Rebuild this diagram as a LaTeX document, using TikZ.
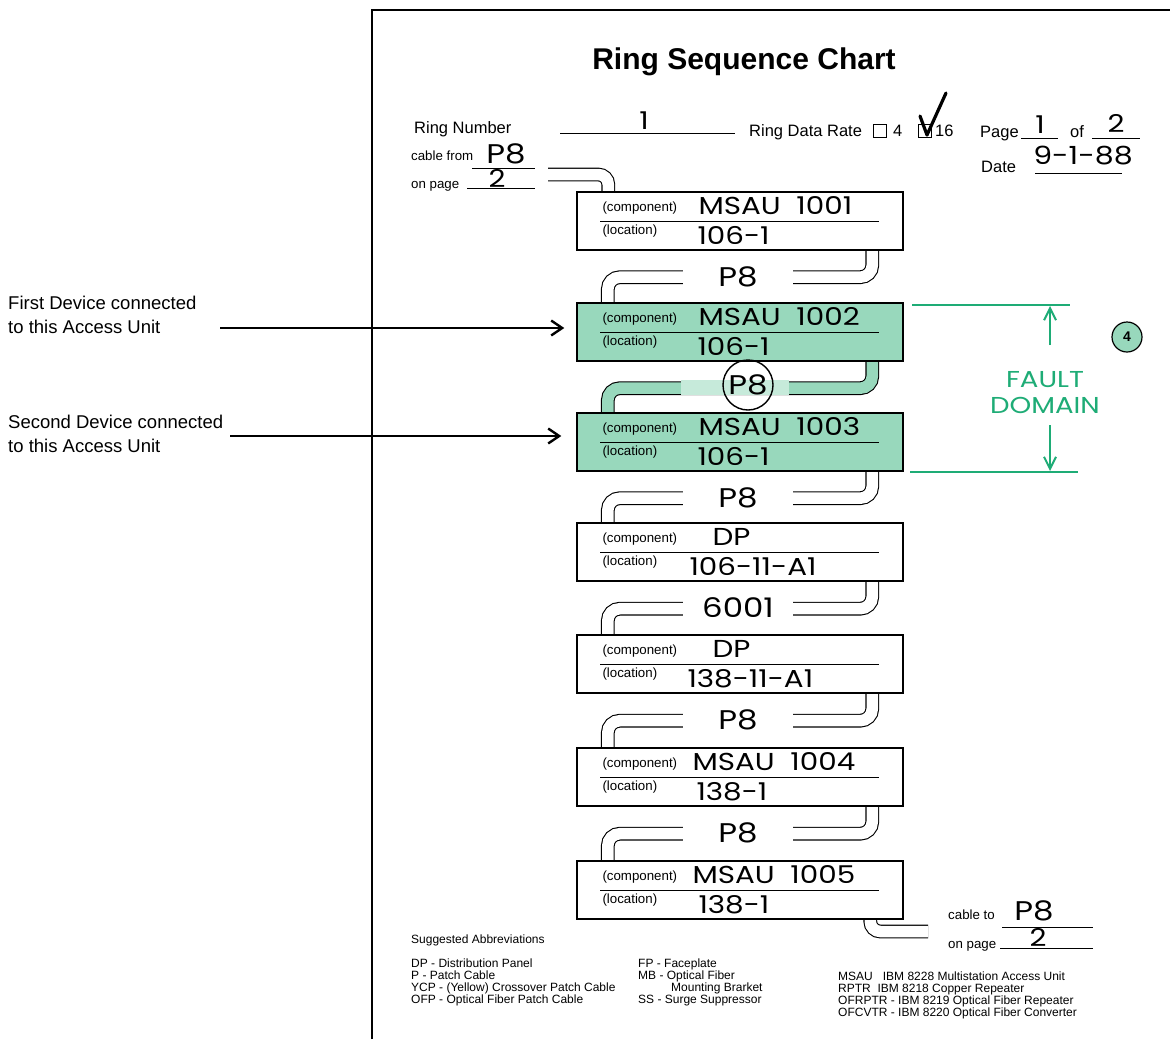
\documentclass[tikz,border=0pt]{standalone}
\usepackage{fontspec}
\setmainfont{Liberation Sans}
\newfontfamily\hand{Poppins}[FakeStretch=1.2]
\usetikzlibrary{calc,arrows.meta}
\definecolor{mint}{RGB}{152,216,188}
\definecolor{fgreen}{RGB}{30,172,118}
\newcommand\fillbox[5]{%
  \node[small, anchor=base west] (#1c) at ($(#1.north west)+(26,20)$) {(component)};
  \node[small, anchor=base west] (#1l) at ($(#1.north west)+(26,43)$) {(location)};
  \draw[line width=0.9pt] ($(#1.north west)+(24,30)$) -- ($(#1.north west)+(303,30)$);
  \node[hw, anchor=base west] (#1hc) at ($(#1.north west)+(#4,23)$) {#2};
  \node[hw, anchor=base west] (#1hl) at ($(#1.north west)+(#5,53)$) {#3};
}
\begin{document}
\begin{tikzpicture}[x=1pt,y=-1pt,
  box/.style={draw, line width=1.4pt, minimum width=326pt, minimum height=58pt, inner sep=0pt, fill=white},
  gbox/.style={box, fill=mint},
  cable/.style={draw, line width=1.1pt, double distance=11.5pt, rounded corners=12pt},
  small/.style={font=\fontsize{13.3}{14}\selectfont, inner sep=0pt},
  head/.style={font=\fontsize{16.5}{18}\selectfont, inner sep=0pt},
  foot/.style={font=\fontsize{12}{12}\selectfont, inner sep=0pt, anchor=base west},
  side/.style={font=\fontsize{18.5}{24}\selectfont, inner sep=0pt, align=left},
  hw/.style={font=\hand\fontsize{24.5}{26}\selectfont, inner sep=0pt},
  hwl/.style={font=\hand\fontsize{27}{30}\selectfont, inner sep=0pt},
  gaplbl/.style={hwl, fill=white, minimum width=110pt, minimum height=16pt},
  uline/.style={line width=0.9pt},
  arr/.style={line width=2.4pt, -{Straight Barb[length=11pt,width=15pt]}},
  garr/.style={fgreen, line width=2pt, -{Straight Barb[length=12pt,width=12pt]}},
]
\useasboundingbox (0,0) rectangle (1170,1039);
\fill[white] (0,0) rectangle (1170,1039);
% frame
\draw[line width=1.8pt] (372,1039) -- (372,10) -- (1170,10);

% title
\node[font=\bfseries\fontsize{30}{32}\selectfont, inner sep=0pt, anchor=base] (title) at (744,69) {Ring Sequence Chart};

% header
\node[head, anchor=base west] (rn) at (414,133) {Ring Number};
\draw[uline] (560,133) -- (735,133);
\node[hw, anchor=base] (rnv) at (644,129) {1};
\node[head, anchor=base west] (rdr) at (749,136) {Ring Data Rate};
\draw[line width=1pt] (873,124) rectangle (886,137);
\node[head, anchor=base west] (r4) at (893,136) {4};
\draw[line width=1pt] (918,124) rectangle (931,137);
\draw[line width=3.2pt, line cap=round, line join=round] (920,116) -- (927,135) -- (946,93);
\node[head, anchor=base west] (r16) at (935,136) {16};
\node[head, anchor=base west] (pg) at (980,137) {Page};
\draw[uline] (1021,138) -- (1058,138);
\node[hw, anchor=base] (pgv) at (1040,133) {1};
\node[head, anchor=base west] (of) at (1070,137) {of};
\draw[uline] (1092,138) -- (1140,138);
\node[hw, anchor=base] (ofv) at (1116,132) {2};
\node[head, anchor=base west] (dt) at (981,172) {Date};
\draw[uline] (1035,173) -- (1122,173);
\node[font=\hand\fontsize{25}{26}\selectfont, inner sep=0pt, anchor=base] (dtv) at (1083,164) {9-1-88};

\node[small, anchor=base west] (cf) at (411,160) {cable from};
\draw[uline] (472,168) -- (535,168);
\node[hwl, anchor=base] (cfv) at (506,163) {P8};
\node[small, anchor=base west] (op) at (411,188) {on page};
\draw[uline] (467,188) -- (535,188);
\node[hw, anchor=base] (opv) at (497,187) {2};

% boxes positions
\coordinate (cfrom) at (548,174.5);
\coordinate (cto) at (928,931.5);
\node[box, draw=none, fill=none] (b1) at (740,221) {};
\node[box, draw=none, fill=none] (b2) at (740,332) {};
\node[box, draw=none, fill=none] (b3) at (740,442) {};
\node[box, draw=none, fill=none] (b4) at (740,552) {};
\node[box, draw=none, fill=none] (b5) at (740,664) {};
\node[box, draw=none, fill=none] (b6) at (740,777) {};
\node[box, draw=none, fill=none] (b7) at (740,890) {};

% cables
\draw[cable, rounded corners=10pt] (cfrom) -| ($(b1.north west)+(32,0)$);
\draw[cable] ($(b1.south west)+(296,0)$) -- ++(0,26.5) -| ($(b2.north west)+(31.5,0)$);
\draw[cable, double=mint] ($(b2.south west)+(296,0)$) -- ++(0,26.5) -| ($(b3.north west)+(31.5,0)$);
\draw[cable] ($(b3.south west)+(296,0)$) -- ++(0,26.5) -| ($(b4.north west)+(31.5,0)$);
\draw[cable] ($(b4.south west)+(296,0)$) -- ++(0,27) -| ($(b5.north west)+(31.5,0)$);
\draw[cable] ($(b5.south west)+(296,0)$) -- ++(0,27) -| ($(b6.north west)+(31.5,0)$);
\draw[cable] ($(b6.south west)+(296,0)$) -- ++(0,27) -| ($(b7.north west)+(31.5,0)$);
\draw[cable, rounded corners=10pt] ($(b7.south west)+(294,0)$) |- (cto);

% boxes
\node[box] (b1) at (740,221) {};
\node[gbox] (b2) at (740,332) {};
\node[gbox] (b3) at (740,442) {};
\node[box] (b4) at (740,552) {};
\node[box] (b5) at (740,664) {};
\node[box] (b6) at (740,777) {};
\node[box] (b7) at (740,890) {};

\fillbox{b1}{MSAU\ \ 1001}{106-1}{122}{121}
\fillbox{b2}{MSAU\ \ 1002}{106-1}{122}{121}
\fillbox{b3}{MSAU\ \ 1003}{106-1}{122}{121}
\fillbox{b4}{DP}{106-11-A1}{136}{113}
\fillbox{b5}{DP}{138-11-A1}{136}{111}
\fillbox{b6}{MSAU\ \ 1004}{138-1}{116}{120}
\fillbox{b7}{MSAU\ \ 1005}{138-1}{116}{122}

% gap labels
\node[gaplbl] (g12) at (738,276.5) {P8};
\node[fill=mint!55, minimum width=108pt, minimum height=15pt, inner sep=0pt] (band) at (735,387.5) {};
\node[hwl, draw, circle, line width=1.4pt, minimum size=50pt, inner sep=0pt] (g23) at (748,385) {P8};
\node[gaplbl] (g34) at (738,497.5) {P8};
\node[gaplbl] (g45) at (738,608) {6001};
\node[gaplbl] (g56) at (738,720) {P8};
\node[gaplbl] (g67) at (738,833) {P8};

% cable to
\node[small, anchor=base west] (ct) at (948,919) {cable to};
\draw[uline] (1002,927) -- (1093,927);
\node[hwl, anchor=base] (ctv) at (1034,920) {P8};
\node[small, anchor=base west] (ctp) at (948,948) {on page};
\draw[uline] (1000,948) -- (1093,948);
\node[hw, anchor=base] (ctpv) at (1038,946) {2};

% fault domain
\draw[fgreen, line width=2pt] (912,305) -- (1070,305);
\draw[fgreen, line width=2pt] (910,472) -- (1078,472);
\coordinate (ftop) at (1050,306);
\coordinate (fbot) at (1050,471);
\node[font=\hand\fontsize{23}{26}\selectfont, text=fgreen, align=center, inner sep=0pt] (fd) at (1045,393) {FAULT\\DOMAIN};
\draw[garr] (1050,345) -- (ftop);
\draw[garr] (1050,425) -- (fbot);
\node[draw, circle, fill=mint, line width=1.2pt, minimum size=30pt, inner sep=0pt, font=\bfseries\fontsize{14}{14}\selectfont] (n4) at (1127,337) {4};

% side notes
\node[side, anchor=west] (t1) at (8,315) {First Device connected\\to this Access Unit};
\node[side, anchor=west] (t2) at (8,434) {Second Device connected\\to this Access Unit};
\draw[arr] (220,328) -- ($(b2.west)+(-12,-4)$);
\draw[arr] (230,436) -- ($(b3.west)+(-15,-6)$);

% footer
\node[foot] (sa) at (411,943) {Suggested Abbreviations};
\node[foot] (a1) at (411,967) {DP - Distribution Panel};
\node[foot] (a2) at (411,979) {P - Patch Cable};
\node[foot] (a3) at (411,991) {YCP - (Yellow) Crossover Patch Cable};
\node[foot] (a4) at (411,1003) {OFP - Optical Fiber Patch Cable};
\node[foot] (a5) at (638,967) {FP - Faceplate};
\node[foot] (a6) at (638,979) {MB - Optical Fiber};
\node[foot] (a7) at (671,991) {Mounting Brarket};
\node[foot] (a8) at (638,1003) {SS - Surge Suppressor};
\node[foot] (a9) at (838,980) {MSAU\ \ \ IBM 8228 Multistation Access Unit};
\node[foot] (a10) at (838,992) {RPTR\ \ IBM 8218 Copper Repeater};
\node[foot] (a11) at (838,1004) {OFRPTR - IBM 8219 Optical Fiber Repeater};
\node[foot] (a12) at (838,1016) {OFCVTR - IBM 8220 Optical Fiber Converter};
\end{tikzpicture}
\end{document}
